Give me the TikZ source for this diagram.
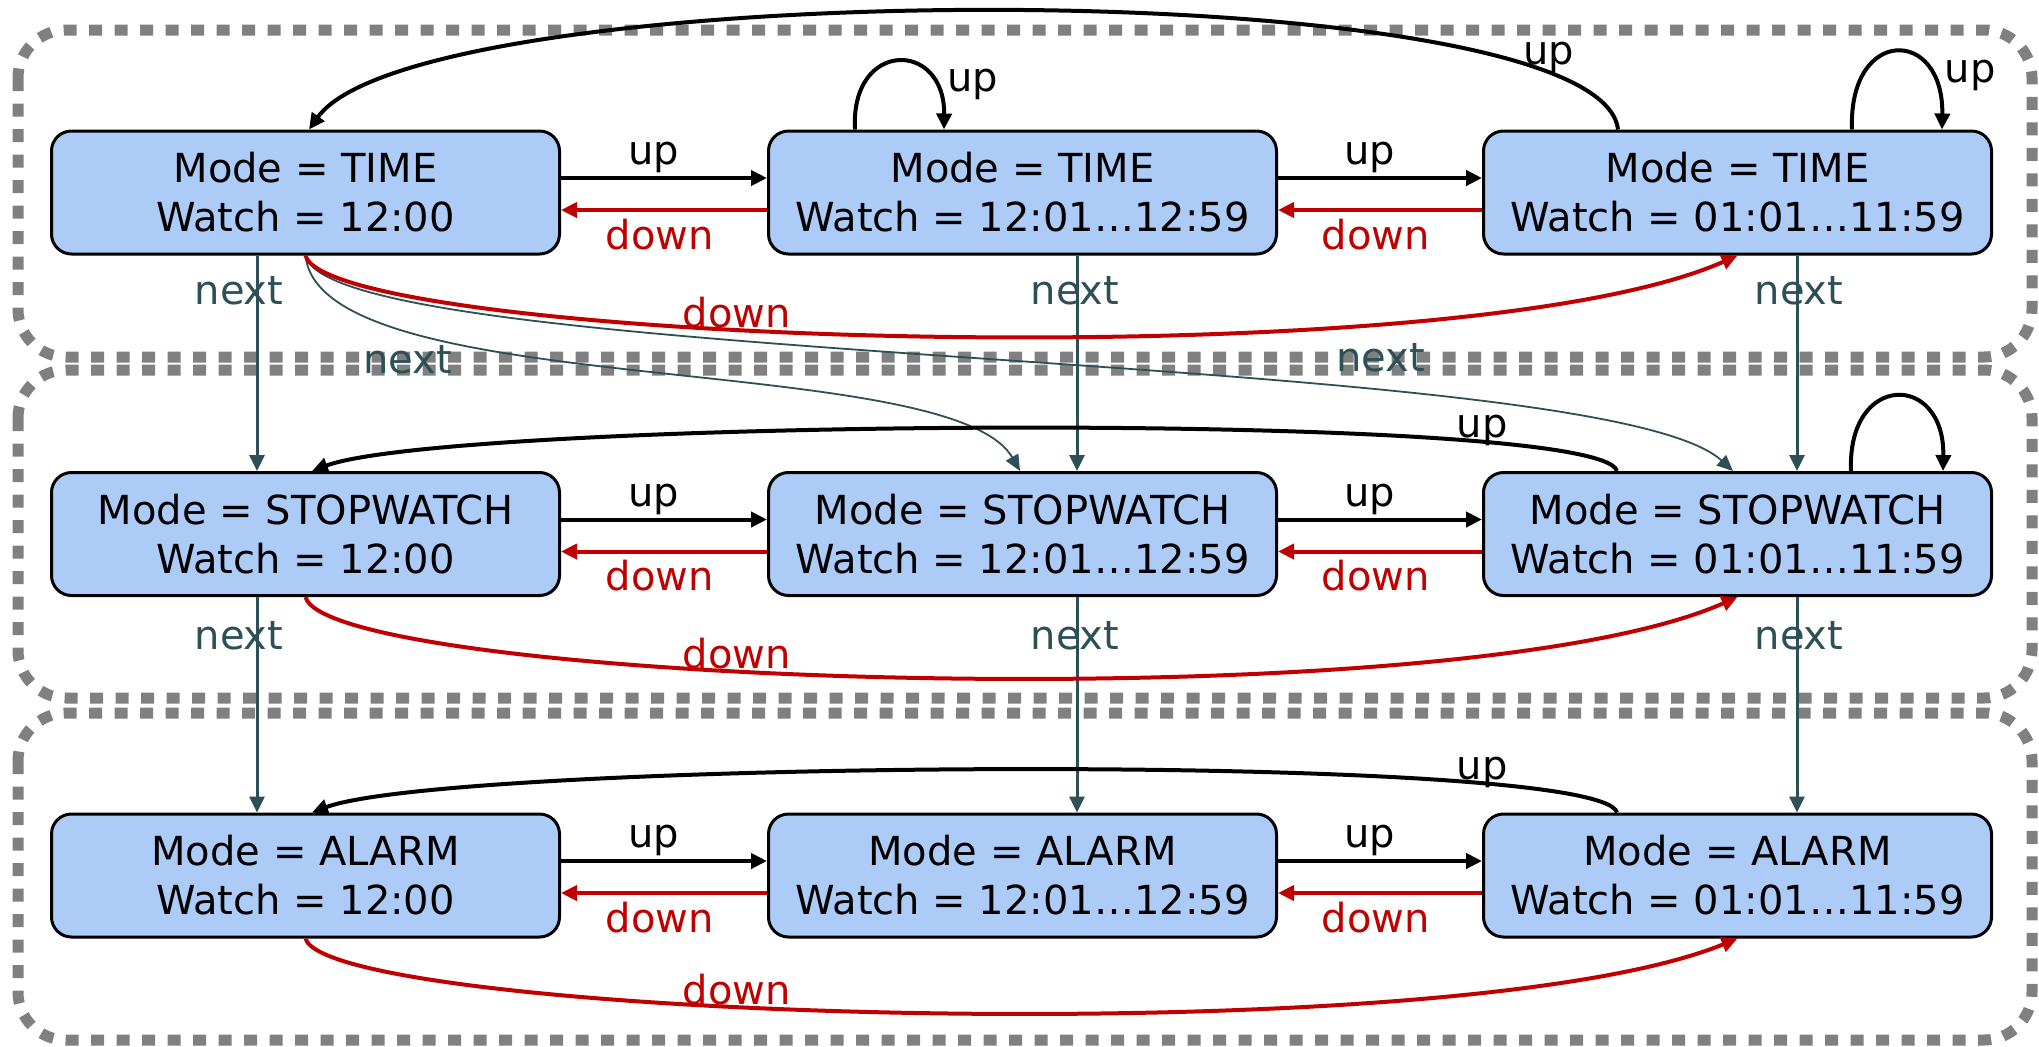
\documentclass[tikz,border=0pt]{standalone}
\usepackage{fontspec}
\setmainfont{DejaVu Sans}
\usetikzlibrary{arrows.meta}
\definecolor{statefill}{RGB}{172,203,247}
\definecolor{nextcol}{RGB}{45,80,87}
\definecolor{downcol}{RGB}{192,0,0}
\definecolor{groupcol}{RGB}{128,128,128}

\begin{document}
\begin{tikzpicture}[x=0.5pt,y=-0.5pt,
  font=\fontsize{20}{24.5}\selectfont,
  state/.style={draw=black, line width=1.5pt, fill=statefill, rounded corners=10pt,
    minimum width=254pt, minimum height=61.5pt, align=center, inner sep=0pt},
  tipend/.style={-{Triangle[length=8pt,width=7.5pt]}},
  upedge/.style={tipend, draw=black, line width=2pt},
  downedge/.style={tipend, draw=downcol, line width=2pt},
  nextedge/.style={tipend, draw=nextcol, line width=1.5pt},
  nextcurve/.style={-{Triangle[length=8pt,width=7pt]}, draw=nextcol, line width=0.9pt},
  group/.style={draw=groupcol, line width=5.5pt, dash pattern=on 6.5pt off 6.25pt, rounded corners=24pt},
  lbl/.style={inner sep=0pt, font=\fontsize{20}{24}\selectfont},
  uplbl/.style={lbl, text=black},
  downlbl/.style={lbl, text=downcol},
  nextlbl/.style={lbl, text=nextcol},
]
\useasboundingbox (0,0) rectangle (2039,1046);

% mode groups
\draw[group] (18,30) rectangle (2032,357);
\draw[group] (18,370) rectangle (2032,698);
\draw[group] (18,713) rectangle (2032,1040);

% states
\node[state] (t1) at (305.5,192.5) {Mode = TIME\\Watch = 12:00};
\node[state] (t2) at (1022.5,192.5) {Mode = TIME\\Watch = 12:01…12:59};
\node[state] (t3) at (1737.5,192.5) {Mode = TIME\\Watch = 01:01…11:59};
\node[state] (s1) at (305.5,534) {Mode = STOPWATCH\\Watch = 12:00};
\node[state] (s2) at (1022.5,534) {Mode = STOPWATCH\\Watch = 12:01…12:59};
\node[state] (s3) at (1737.5,534) {Mode = STOPWATCH\\Watch = 01:01…11:59};
\node[state] (a1) at (305.5,875.5) {Mode = ALARM\\Watch = 12:00};
\node[state] (a2) at (1022.5,875.5) {Mode = ALARM\\Watch = 12:01…12:59};
\node[state] (a3) at (1737.5,875.5) {Mode = ALARM\\Watch = 01:01…11:59};

% up / down between neighbours
\foreach \p/\q in {t1/t2,t2/t3,s1/s2,s2/s3,a1/a2,a2/a3}{
  \draw[upedge] ([yshift=7.25pt]\p.east) -- node[uplbl, above, pos=0.45, yshift=1.5pt]{up} ([yshift=7.25pt]\q.west);
  \draw[downedge] ([yshift=-8.75pt]\q.west) -- node[downlbl, below, pos=0.52, yshift=-3.5pt]{down} ([yshift=-8.75pt]\p.east);
}

% next: straight down the columns
\draw[nextedge] ([xshift=-24.25pt]t1.south) -- node[nextlbl, pos=0.165, xshift=-9pt]{next} ([xshift=-24.25pt]s1.north);
\draw[nextedge] ([xshift=27.25pt]t2.south) -- node[nextlbl, pos=0.165, xshift=-1pt]{next} ([xshift=27.25pt]s2.north);
\draw[nextedge] ([xshift=29.75pt]t3.south) -- node[nextlbl, pos=0.165, xshift=1pt]{next} ([xshift=29.75pt]s3.north);
\draw[nextedge] ([xshift=-24.25pt]s1.south) -- node[nextlbl, pos=0.179, xshift=-9pt]{next} ([xshift=-24.25pt]a1.north);
\draw[nextedge] ([xshift=27.25pt]s2.south) -- node[nextlbl, pos=0.179, xshift=-1pt]{next} ([xshift=27.25pt]a2.north);
\draw[nextedge] ([xshift=29.75pt]s3.south) -- node[nextlbl, pos=0.179, xshift=1pt]{next} ([xshift=29.75pt]a3.north);

% next: from TIME 12:00 across to the stopwatch states
\draw[nextcurve] (t1.south) .. controls +(14.5,147) and +(-70,-122) ..
  node[nextlbl, pos=0.2, xshift=14.5pt, yshift=-18.5pt]{next} ([xshift=-1.25pt]s2.north);
\draw[nextcurve] (t1.south) .. controls +(24.5,112) and +(-133,-122) ..
  node[nextlbl, pos=0.7, xshift=5pt, yshift=17pt]{next} ([xshift=-2.25pt]s3.north);

% down: wrap from 12:00 to 01:01...11:59
\draw[downedge] (t1.south) .. controls +(23,87) and +(-287,127) ..
  node[downlbl, pos=0.4, anchor=south]{down} (t3.south);
\draw[downedge] (s1.south) .. controls +(23,87) and +(-287,127) ..
  node[downlbl, pos=0.4, anchor=south]{down} (s3.south);
\draw[downedge] (a1.south) .. controls +(23,80) and +(-287,117) ..
  node[downlbl, pos=0.4, anchor=south]{down} (a3.south);

% up: wrap from 01:01...11:59 back to 12:00
\draw[upedge] ([xshift=-59.75pt]t3.north) .. controls +(-18,-160) and +(111,-155) ..
  node[uplbl, pos=0.13, anchor=south, xshift=-4pt, yshift=0.5pt]{up} ([xshift=1.75pt]t1.north);
\draw[upedge] ([xshift=-60.25pt]s3.north) .. controls +(-17,-62) and +(138,-52) ..
  node[uplbl, pos=0.2, anchor=south, xshift=-3pt, yshift=-3pt]{up} ([xshift=3.25pt]s1.north);
\draw[upedge] ([xshift=-60.25pt]a3.north) .. controls +(-17,-62) and +(138,-52) ..
  node[uplbl, pos=0.2, anchor=south, xshift=-3pt, yshift=-3pt]{up} ([xshift=3.25pt]a1.north);

% self loops
\draw[upedge] ([xshift=-83.75pt]t2.north) .. controls +(-5,-90) and +(1,-90) ..
  node[uplbl, pos=0.7, anchor=west, xshift=10.5pt, yshift=-6pt]{up} ([xshift=-39.25pt]t2.north);
\draw[upedge] ([xshift=57.25pt]t3.north) .. controls +(-4,-103) and +(2,-103) ..
  node[uplbl, pos=0.7, anchor=west, xshift=10pt, yshift=-5.5pt]{up} ([xshift=102.25pt]t3.north);
\draw[upedge] ([xshift=56.75pt]s3.north) .. controls +(-4,-99) and +(2,-99) .. ([xshift=102.75pt]s3.north);

\end{tikzpicture}
\end{document}
